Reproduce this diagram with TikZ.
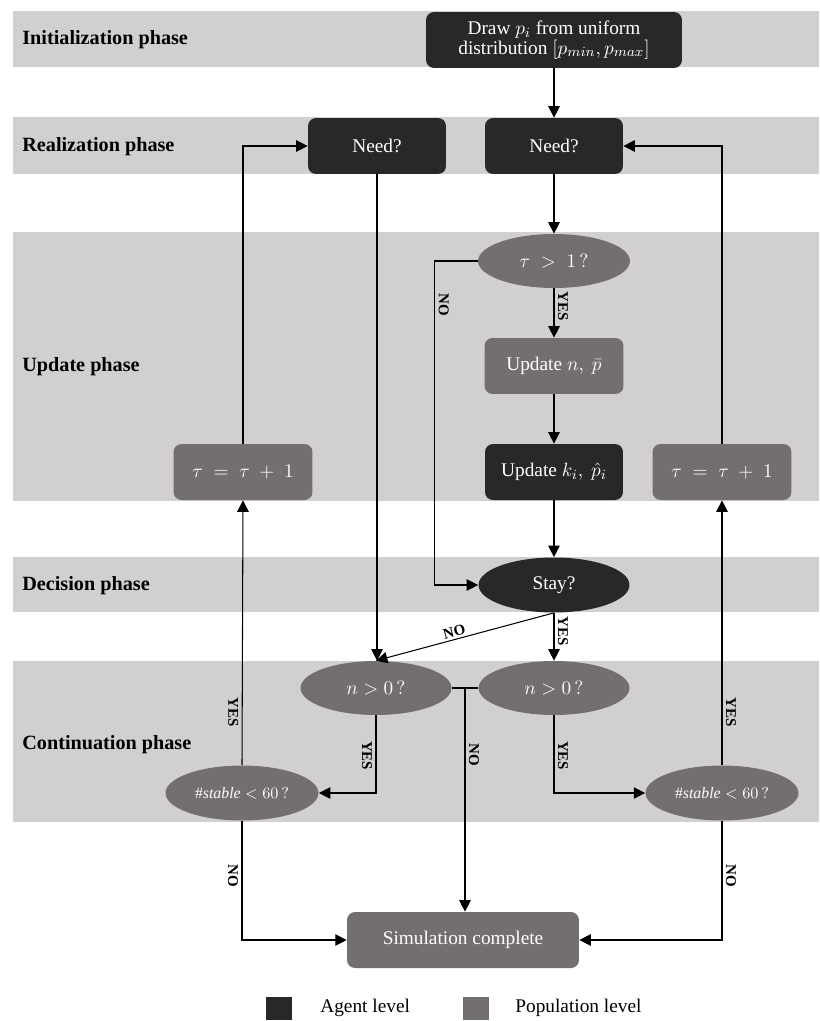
\documentclass[tikz,border=0pt]{standalone}
\usepackage{fontspec}
\setmainfont{Liberation Serif}
\usetikzlibrary{shapes.geometric,arrows.meta}
\definecolor{agentgray}{HTML}{282828}
\definecolor{popgray}{HTML}{736F6E}
\definecolor{bandgray}{HTML}{D1CFD0}
\tikzstyle{agentbox}=[rectangle,rounded corners=1.6mm,fill=agentgray,text=white,
                      minimum width=2.76cm,minimum height=1.12cm,align=center]
\tikzstyle{popbox}=[rectangle,rounded corners=1.6mm,fill=popgray,text=white,
                    minimum width=2.78cm,minimum height=1.12cm,align=center]
\tikzstyle{agentoval}=[ellipse,fill=agentgray,text=white,inner sep=0pt,
                       minimum width=3.02cm,minimum height=1.1cm]
\tikzstyle{popoval}=[ellipse,fill=popgray,text=white,inner sep=0pt,
                     minimum width=3.02cm,minimum height=1.08cm]
\tikzstyle{phase}=[anchor=west,inner sep=0pt,font=\fontsize{11.5}{13}\selectfont\bfseries]
\tikzstyle{flow}=[-{Triangle[width=6.5pt,length=6.5pt]},line width=0.6pt]
\tikzstyle{answer}=[font=\fontsize{8.5}{10}\selectfont\bfseries,rotate=-90,inner sep=2pt]

\begin{document}
\begin{tikzpicture}[x=0.02cm,y=-0.02cm,font=\fontsize{11}{13}\selectfont]
    \useasboundingbox (0,0) rectangle (819,1021);
    \foreach \ya/\yb/\yt/\lab in {11/67/40/Initialization,117/174/147/Realization,
                                  232/501/367/Update,557/612/586/Decision,
                                  661/822/745/Continuation}{
      \fill[bandgray] (13,\ya) rectangle (819,\yb);
      \node (ph\lab) at (22,\yt) [phase] {\lab\ phase};
    }
    \node (init) at (554,40) [agentbox,minimum width=5.12cm]
          {Draw $p_i$ from uniform\\[-2pt]distribution $[p_{min},p_{max}]$};
    \node (needL) at (377,146) [agentbox] {Need?};
    \node (needR) at (554,146) [agentbox] {Need?};
    \node (tcheck) at (554,261) [popoval,minimum width=3.04cm] {$\tau\;>\;1\,?$};
    \node (updpop) at (554,366) [popbox] {Update\ $n,\ \bar{p}$};
    \node (updagent) at (554,472) [agentbox] {Update\ $k_i,\ \hat{p}_i$};
    \node (incL) at (243,472) [popbox] {$\tau\;=\;\tau\;+\;1$};
    \node (incR) at (722,472) [popbox] {$\tau\;=\;\tau\;+\;1$};
    \node (stay) at (554,585) [agentoval] {Stay?};
    \node (posL) at (376,688) [popoval] {$n > 0\,?$};
    \node (posR) at (554,688) [popoval] {$n > 0\,?$};
    \node (stabL) at (242,793) [popoval,minimum width=3.06cm,minimum height=1.1cm,
          font=\small] {$\#\mathit{stable} < 60\,?$};
    \node (stabR) at (722,793) [popoval,minimum width=3.06cm,minimum height=1.1cm,
          font=\small] {$\#\mathit{stable} < 60\,?$};
    \node (done) at (463,940) [popbox,minimum width=4.64cm] {Simulation complete};
    \coordinate (split) at (465,688);

    \draw[flow] (init) -- (needR);
    \draw[flow] (needR) -- (tcheck);
    \draw[flow] (tcheck) -- node[answer,pos=0.36,anchor=south] {YES} (updpop);
    \draw[flow] (updpop) -- (updagent);
    \draw[flow] (updagent) -- (stay);
    \draw[flow] (tcheck.west) -- ++(-43,0)
          |- node[answer,pos=0.068,anchor=south] {NO} (stay.west);
    \draw[flow] (stay) -- node[answer,pos=0.39,anchor=south] {YES} (posR);
    \draw[flow] (stay.south) -- node[sloped,above,pos=0.55,inner sep=1pt,
          font=\fontsize{8.5}{10}\selectfont\bfseries] {NO} (posL.north);
    \draw[flow] (needL.south) -- (needL.south |- posL.north);
    \draw[line width=0.6pt] (posL.east) -- (split) -- (posR.west);
    \draw[flow] (split) -- node[answer,pos=0.3,anchor=south] {NO} (split |- done.north);
    \draw[flow] (posL.south) |- node[answer,pos=0.26,anchor=north] {YES} (stabL.east);
    \draw[flow] (posR.south) |- node[answer,pos=0.26,anchor=south] {YES} (stabR.west);
    \draw[flow] (stabL.north) -- node[answer,pos=0.2,anchor=north] {YES} (incL.south);
    \draw[flow] (stabR.north) -- node[answer,pos=0.2,anchor=south] {YES} (incR.south);
    \draw[flow] (incL.north) |- (needL.west);
    \draw[flow] (incR.north) |- (needR.east);
    \draw[flow] (stabL.south) |- node[answer,pos=0.23,anchor=north] {NO} (done.west);
    \draw[flow] (stabR.south) |- node[answer,pos=0.23,anchor=south] {NO} (done.east);

    \node (keyA) at (279,1008) [fill=agentgray,minimum width=0.52cm,minimum height=0.46cm] {};
    \node (keyAtext) at (320,1008) [anchor=west,inner sep=0pt] {Agent level};
    \node (keyP) at (476,1008) [fill=popgray,minimum width=0.52cm,minimum height=0.46cm] {};
    \node (keyPtext) at (515,1008) [anchor=west,inner sep=0pt] {Population level};
\end{tikzpicture}
\end{document}
